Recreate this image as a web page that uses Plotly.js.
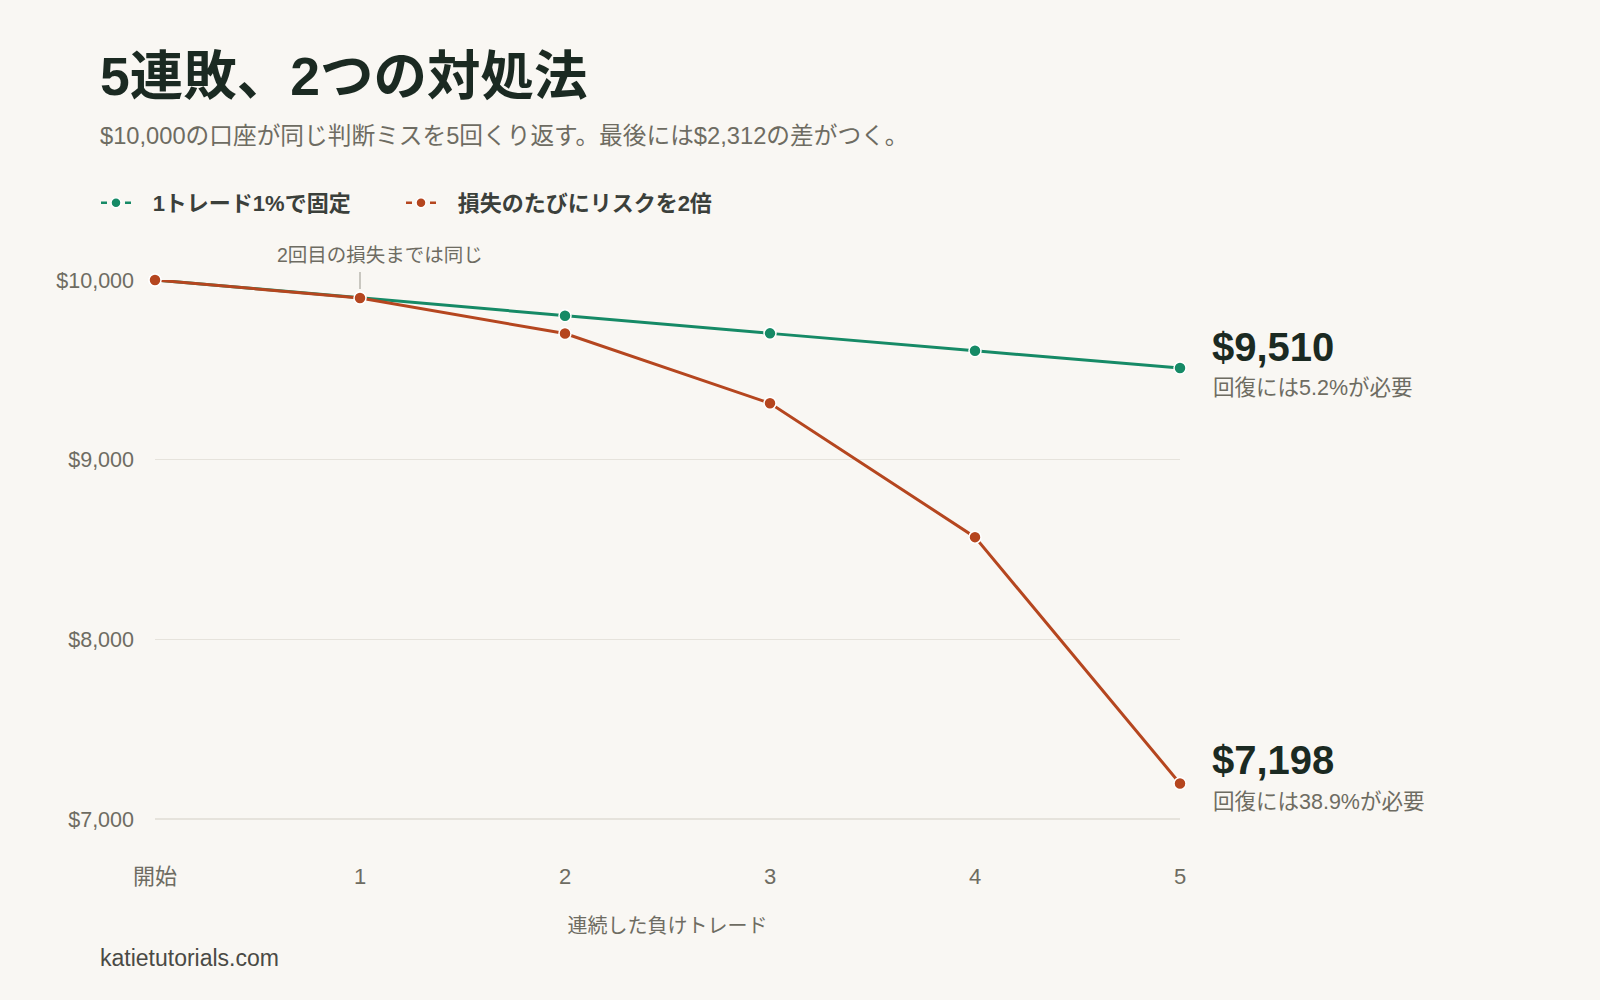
<!DOCTYPE html>
<html>
<head>
<meta charset="utf-8">
<script src="https://cdn.plot.ly/plotly-3.0.1.min.js"></script>
<style>
  html, body { margin: 0; padding: 0; background: #f9f7f3; }
  #chart { width: 1600px; height: 1000px; }
</style>
</head>
<body>
<div id="chart"></div>
<script>
const steps = [0, 1, 2, 3, 4, 5]
const stepLabels = ['開始', '1', '2', '3', '4', '5']
const fixedRisk = [10000, 9900, 9801, 9703, 9606, 9510]
const doubledRisk = [10000, 9900, 9702, 9314, 8569, 7198]
const seriesNames = ['1トレード1%で固定', '損失のたびにリスクを2倍']
const yTicks = [7000, 8000, 9000, 10000]

const GREEN = '#168a66'
const RUST = '#b5461f'
const FONT = '"Liberation Sans", "Noto Sans CJK JP", sans-serif'
const GRAY = '#6e6c62'
const DARK = '#1b2a22'
const PAD = '\u00a0\u00a0\u2009'

const fmt = v => '$' + v.toLocaleString('en-US')
const recovery = v => ((10000 / v - 1) * 100).toFixed(1) + '%'

const lineTrace = (y, color) => ({
  x: steps,
  y,
  mode: 'lines+markers',
  line: { color, width: 3 },
  marker: { color, size: 12, line: { color: '#ffffff', width: 1.5 } },
  cliponaxis: false,
  showlegend: false,
  hoverinfo: 'skip',
})

// legend-only entries, so the key gets the "- • -" look
const legendTrace = (name, color) => ({
  x: [null],
  y: [null],
  name: PAD + name,
  mode: 'lines+markers',
  line: { color, width: 2.5, dash: '6px,6px' },
  marker: { color, size: 10, line: { color: '#ffffff', width: 1.5 } },
})

const data = [
  lineTrace(fixedRisk, GREEN),
  lineTrace(doubledRisk, RUST),
  legendTrace(seriesNames[0], GREEN),
  legendTrace(seriesNames[1], RUST),
  // empty entry that only widens the legend box so the last label isn't clipped
  { x: [null], y: [null], name: ' ', mode: 'lines', line: { width: 0, color: 'rgba(0,0,0,0)' } },
]

const lastFixed = fixedRisk[fixedRisk.length - 1]
const lastDoubled = doubledRisk[doubledRisk.length - 1]
const lastStep = steps[steps.length - 1]

const endLabel = (v, shiftBig, shiftSmall) => [
  {
    xref: 'x', yref: 'y', x: lastStep, y: v,
    xanchor: 'left', yanchor: 'middle', xshift: 30, yshift: shiftBig,
    text: fmt(v), showarrow: false,
    font: { family: FONT, size: 40, color: DARK, weight: 'bold' },
  },
  {
    xref: 'x', yref: 'y', x: lastStep, y: v,
    xanchor: 'left', yanchor: 'middle', xshift: 31, yshift: shiftSmall,
    text: '回復には' + recovery(v) + 'が必要', showarrow: false,
    font: { family: FONT, size: 21.5, color: GRAY },
  },
]

const layout = {
  width: 1600,
  height: 1000,
  paper_bgcolor: '#f9f7f3',
  plot_bgcolor: '#f9f7f3',
  margin: { l: 155, r: 420, t: 280, b: 145 },
  font: { family: FONT, color: GRAY },
  title: {
    text: '5連敗、2つの対処法',
    xref: 'container', yref: 'container',
    x: 100 / 1600, y: 1 - 76 / 1000,
    xanchor: 'left', yanchor: 'middle',
    font: { family: FONT, size: 53.5, color: DARK, weight: 'bold' },
  },
  showlegend: true,
  legend: {
    orientation: 'h',
    xref: 'container', yref: 'container',
    x: 96 / 1600, y: 1 - 203 / 1000,
    xanchor: 'left', yanchor: 'middle',
    bgcolor: 'rgba(0,0,0,0)',
    entrywidth: 260,
    font: { family: FONT, size: 22, color: '#3b403b', weight: 'bold' },
  },
  xaxis: {
    range: [0, 5],
    tickvals: steps,
    ticktext: stepLabels,
    showgrid: false,
    zeroline: false,
    showline: false,
    ticks: '',
    ticklabelstandoff: 6,
    tickfont: { family: FONT, size: 22, color: GRAY },
    title: {
      text: '連続した負けトレード',
      standoff: 30,
      font: { family: FONT, size: 20, color: GRAY },
    },
    fixedrange: true,
  },
  yaxis: {
    range: [6800, 10000],
    tickvals: yTicks,
    ticktext: yTicks.map(fmt),
    showgrid: true,
    gridcolor: '#e6e3dc',
    gridwidth: 1.5,
    zeroline: false,
    showline: false,
    ticks: '',
    ticklabelstandoff: 20,
    tickfont: { family: FONT, size: 21.5, color: GRAY },
    fixedrange: true,
  },
  annotations: [
    {
      xref: 'paper', yref: 'paper',
      x: -57 / 1025, y: 1 + (280 - 136) / 575,
      xanchor: 'left', yanchor: 'middle',
      text: '$10,000の口座が同じ判断ミスを5回くり返す。最後には$2,312の差がつく。',
      showarrow: false,
      font: { family: FONT, size: 23.7, color: GRAY },
    },
    {
      // leader tick above step 1
      xref: 'x', yref: 'y', x: 1, y: fixedRisk[1],
      text: ' ', font: { size: 1 },
      showarrow: true, arrowhead: 0, arrowwidth: 1.2, arrowcolor: '#a9a79f',
      ax: 0, ay: -28, standoff: 9,
    },
    {
      xref: 'x', yref: 'y', x: 1, y: fixedRisk[1],
      xanchor: 'center', yanchor: 'bottom', xshift: 20, yshift: 30,
      text: '2回目の損失までは同じ',
      showarrow: false,
      font: { family: FONT, size: 19.5, color: GRAY },
    },
    ...endLabel(lastFixed, 21, -20),
    ...endLabel(lastDoubled, 23, -19),
    {
      xref: 'paper', yref: 'paper',
      x: -57 / 1025, y: -(958 - 855) / 575,
      xanchor: 'left', yanchor: 'middle',
      text: 'katietutorials.com',
      showarrow: false,
      font: { family: FONT, size: 23, color: '#4a4a45' },
    },
  ],
}

Plotly.newPlot('chart', data, layout, { displayModeBar: false, staticPlot: true })
</script>
</body>
</html>
